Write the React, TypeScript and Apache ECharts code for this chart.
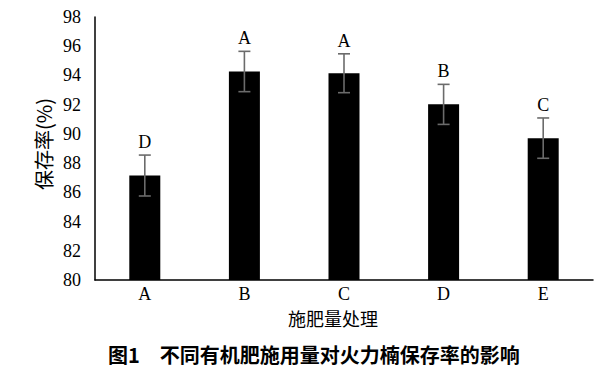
import React, { useEffect, useRef } from "react";
import * as echarts from "echarts";

const categories = ["A", "B", "C", "D", "E"];
const values = [87.15, 94.27, 94.15, 92.02, 89.71];
const errors = [1.4, 1.38, 1.33, 1.37, 1.38];
const letters = ["D", "A", "A", "B", "C"];
const yTicks = { min: 80, max: 98, interval: 2 };
const yName = "保存率(%)";
const xName = "施肥量处理";
const caption = "图1　不同有机肥施用量对火力楠保存率的影响";

export default function App() {
  const ref = useRef<HTMLDivElement>(null);
  useEffect(() => {
    if (!ref.current) return;
    const chart = echarts.init(ref.current, undefined, { renderer: "svg" });
    const serif = "'Liberation Serif', 'Times New Roman', serif";
    const cjk = "'Noto Sans CJK SC', sans-serif";
    chart.setOption({
      animation: false,
      backgroundColor: "#fff",
      grid: { left: 95, right: 7, top: 17, bottom: 93 },
      xAxis: {
        type: "category",
        data: categories,
        axisLine: { lineStyle: { color: "#000", width: 1.5 } },
        axisTick: { show: false },
        axisLabel: { color: "#000", fontFamily: serif, fontSize: 18, margin: 5, lineHeight: 18 },
      },
      yAxis: {
        type: "value",
        min: yTicks.min,
        max: yTicks.max,
        interval: yTicks.interval,
        axisLine: { show: true, lineStyle: { color: "#000", width: 1.5 } },
        axisTick: { show: false },
        splitLine: { show: false },
        axisLabel: { color: "#000", fontFamily: serif, fontSize: 18, margin: 14 },
      },
      series: [
        {
          type: "bar",
          data: values,
          barWidth: 31,
          itemStyle: { color: "#000" },
        },
        {
          type: "custom",
          data: values.map((v, i) => [i, v, errors[i]]),
          encode: { x: 0, y: 1 },
          z: 10,
          renderItem: (params: any, api: any) => {
            const i = api.value(0);
            const v = api.value(1);
            const e = api.value(2);
            const top = api.coord([i, v + e]);
            const bot = api.coord([i, v - e]);
            const hw = 6;
            const style = { stroke: "#6b6b6b", lineWidth: 1.6 };
            return {
              type: "group",
              children: [
                { type: "line", shape: { x1: top[0], y1: top[1], x2: bot[0], y2: bot[1] }, style },
                { type: "line", shape: { x1: top[0] - hw, y1: top[1], x2: top[0] + hw, y2: top[1] }, style },
                { type: "line", shape: { x1: bot[0] - hw, y1: bot[1], x2: bot[0] + hw, y2: bot[1] }, style },
                {
                  type: "text",
                  x: top[0],
                  y: top[1] - 4,
                  style: {
                    text: letters[params.dataIndex],
                    fill: "#000",
                    font: `18px ${serif}`,
                    textAlign: "center",
                    textVerticalAlign: "bottom",
                  },
                },
              ],
            };
          },
        },
      ],
      graphic: [
        {
          type: "text",
          x: 43,
          y: 144,
          rotation: Math.PI / 2,
          style: {
            text: yName,
            fill: "#000",
            font: `20px ${cjk}`,
            textAlign: "center",
            textVerticalAlign: "middle",
          },
        },
        {
          type: "text",
          x: 333,
          y: 318,
          style: {
            text: xName,
            fill: "#000",
            font: `18px ${cjk}`,
            textAlign: "center",
            textVerticalAlign: "middle",
          },
        },
        {
          type: "text",
          x: 108,
          y: 354,
          style: {
            text: caption,
            fill: "#000",
            font: `bold 20px ${cjk}`,
            textAlign: "left",
            textVerticalAlign: "middle",
          },
        },
      ],
    });
    return () => chart.dispose();
  }, []);
  return <div ref={ref} style={{ width: 600, height: 373, position: "absolute", left: 0, top: 0 }} />;
}
